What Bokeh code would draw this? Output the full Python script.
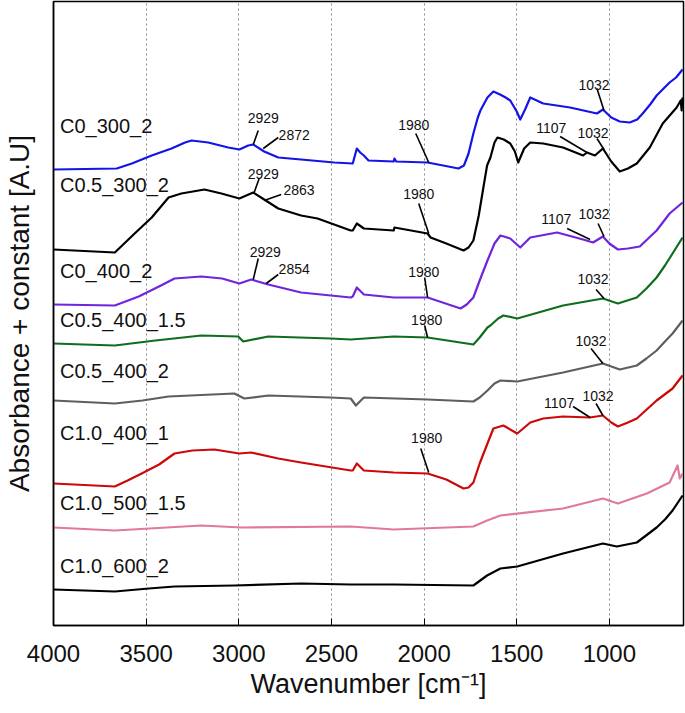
from bokeh.plotting import figure
from bokeh.models import Range1d, FixedTicker, ColumnDataSource
from bokeh.core.properties import value
from bokeh.embed import file_html
from bokeh.resources import INLINE

FONT = "Liberation Sans"

# ---- spectra (wavenumber cm-1, absorbance + constant) ----
wn_c0_300_2 = [4000, 3659, 3577, 3470, 3363, 3290, 3255, 3165, 3057, 2997, 2949, 2922, 2863, 2787, 2664, 2485,
               2385, 2363, 2345, 2325, 2300, 2164, 2160, 2150, 1981, 1814, 1785, 1760, 1734, 1710, 1696, 1670,
               1658, 1626, 1590, 1560, 1535, 1500, 1481, 1455, 1427, 1357, 1212, 1067, 1035, 990, 944, 890,
               850, 820, 780, 745, 675, 640, 605]
ab_c0_300_2 = [4.66, 4.67, 4.72, 4.80, 4.87, 4.93, 4.95, 4.93, 4.88, 4.86, 4.90, 4.91, 4.84, 4.78, 4.76, 4.73,
               4.72, 4.87, 4.83, 4.80, 4.75, 4.74, 4.77, 4.74, 4.73, 4.67, 4.70, 4.82, 5.02, 5.18, 5.25, 5.34,
               5.38, 5.44, 5.41, 5.38, 5.35, 5.24, 5.16, 5.26, 5.38, 5.32, 5.28, 5.22, 5.26, 5.18, 5.14, 5.13,
               5.16, 5.22, 5.31, 5.40, 5.53, 5.58, 5.66]

wn_c05_300_2 = [4000, 3669, 3562, 3470, 3379, 3310, 3185, 3094, 2997, 2922, 2863, 2787, 2664, 2575, 2396, 2385,
                2363, 2325, 2164, 2160, 1981, 1965, 1880, 1787, 1760, 1734, 1705, 1680, 1660, 1642, 1620, 1604,
                1570, 1535, 1510, 1492, 1460, 1427, 1357, 1250, 1142, 1121, 1078, 1035, 990, 944, 900, 852,
                782, 712, 637, 615, 610, 605]
ab_c05_300_2 = [3.86, 3.83, 4.02, 4.18, 4.38, 4.42, 4.46, 4.42, 4.37, 4.43, 4.36, 4.27, 4.20, 4.17, 4.05, 4.05,
                4.12, 4.07, 4.05, 4.08, 4.02, 3.98, 3.92, 3.85, 3.88, 3.95, 4.20, 4.48, 4.70, 4.78, 4.93, 4.98,
                4.96, 4.92, 4.84, 4.73, 4.87, 4.93, 4.92, 4.88, 4.80, 4.83, 4.80, 4.87, 4.74, 4.64, 4.67, 4.72,
                4.88, 5.12, 5.28, 5.35, 5.25, 5.38]

wn_c0_400_2 = [4000, 3669, 3540, 3420, 3347, 3202, 3090, 2997, 2933, 2841, 2664, 2396, 2385, 2363, 2325, 2164,
               1981, 1900, 1803, 1770, 1734, 1700, 1658, 1620, 1588, 1535, 1481, 1427, 1282, 1142, 1088, 1035,
               1000, 954, 900, 836, 745, 675, 605]
ab_c0_400_2 = [3.31, 3.30, 3.39, 3.50, 3.57, 3.59, 3.57, 3.52, 3.56, 3.51, 3.43, 3.38, 3.39, 3.48, 3.41, 3.38,
               3.38, 3.33, 3.27, 3.31, 3.38, 3.55, 3.75, 3.92, 4.00, 3.97, 3.88, 3.98, 4.03, 3.96, 3.93, 3.99,
               3.92, 3.86, 3.87, 3.89, 4.05, 4.22, 4.33]

wn_c05_400_15 = [4000, 3669, 3450, 3202, 3003, 2976, 2841, 2503, 2396, 2164, 1981, 1734, 1700, 1658, 1642, 1600,
                 1572, 1497, 1250, 1035, 954, 852, 800, 745, 700, 659, 605]
ab_c05_400_15 = [2.92, 2.90, 2.95, 3.00, 2.99, 2.94, 2.99, 2.97, 2.96, 2.99, 2.98, 2.91, 2.98, 3.08, 3.10, 3.17,
                 3.20, 3.17, 3.30, 3.37, 3.32, 3.38, 3.47, 3.58, 3.70, 3.82, 3.98]

wn_c05_400_2 = [4000, 3669, 3520, 3379, 3024, 2970, 2841, 2503, 2396, 2368, 2325, 1981, 1734, 1700, 1658, 1620,
                1588, 1497, 1250, 1035, 944, 852, 800, 745, 700, 659, 605]
ab_c05_400_2 = [2.35, 2.32, 2.35, 2.39, 2.42, 2.37, 2.40, 2.38, 2.37, 2.30, 2.38, 2.36, 2.34, 2.38, 2.45, 2.52,
                2.55, 2.54, 2.63, 2.72, 2.66, 2.70, 2.77, 2.85, 2.94, 3.02, 3.15]

wn_c10_400_1 = [4000, 3669, 3600, 3524, 3430, 3347, 3250, 3132, 2997, 2933, 2787, 2664, 2396, 2385, 2363, 2325,
                2164, 1981, 1880, 1787, 1760, 1734, 1700, 1658, 1626, 1572, 1497, 1427, 1357, 1250, 1105, 1035,
                990, 954, 900, 852, 745, 659, 605]
ab_c10_400_1 = [1.52, 1.49, 1.55, 1.62, 1.71, 1.82, 1.85, 1.86, 1.82, 1.83, 1.77, 1.73, 1.65, 1.65, 1.72, 1.65,
                1.63, 1.62, 1.56, 1.47, 1.48, 1.53, 1.72, 1.92, 2.07, 2.10, 2.02, 2.13, 2.17, 2.19, 2.18, 2.20,
                2.13, 2.09, 2.13, 2.17, 2.35, 2.47, 2.60]

wn_c10_500_15 = [4000, 3669, 3202, 2986, 2396, 2164, 1734, 1660, 1588, 1250, 1035, 954, 798, 675, 632, 620, 605]
ab_c10_500_15 = [1.08, 1.05, 1.10, 1.08, 1.09, 1.06, 1.09, 1.15, 1.20, 1.27, 1.37, 1.32, 1.42, 1.53, 1.70, 1.57,
                 1.62]

wn_c10_600_2 = [4000, 3669, 3486, 3347, 3024, 2664, 2396, 2164, 1734, 1660, 1588, 1497, 1250, 1035, 960, 852, 745,
                700, 659, 605]
ab_c10_600_2 = [0.46, 0.44, 0.47, 0.49, 0.50, 0.52, 0.51, 0.51, 0.50, 0.60, 0.67, 0.69, 0.82, 0.92, 0.89, 0.93,
                1.08, 1.16, 1.25, 1.40]

names = ["C0_300_2", "C0.5_300_2", "C0_400_2", "C0.5_400_1.5", "C0.5_400_2", "C1.0_400_1", "C1.0_500_1.5",
         "C1.0_600_2"]
colors = ["#1414e6", "#000000", "#7024dc", "#0e6e1e", "#5e5e5e", "#cc0808", "#e07a98", "#000000"]
label_y = [5.10, 4.51, 3.65, 3.16, 2.65, 2.03, 1.33, 0.70]
label_x = 3965

# ---- peak annotations ----
ann_text = ["2929", "2872", "2929", "2863", "2929", "2854", "1980", "1980", "1980", "1980", "1980",
            "1032", "1107", "1032", "1107", "1032", "1032", "1032", "1107", "1032"]
ann_tx = [2868, 2701, 2868, 2675, 2857, 2701, 2056, 2029, 2002, 1986, 1986,
          1083, 1314, 1088, 1287, 1083, 1088, 1099, 1271, 1061]
ann_ty = [5.18, 5.01, 4.62, 4.46, 3.84, 3.67, 5.11, 4.42, 3.64, 3.16, 1.98,
          5.51, 5.08, 5.03, 4.17, 4.22, 3.57, 2.95, 2.33, 2.40]
ann_x0 = [2895, 2787, 2890, 2771, 2895, 2787, 2045, 2029, 1997, 1997, 2018,
          1067, 1266, 1067, 1228, 1061, 1072, 1099, 1196, 1072]
ann_y0 = [5.05, 4.98, 4.57, 4.41, 3.77, 3.61, 5.02, 4.32, 3.58, 3.10, 1.87,
          5.47, 4.99, 4.97, 4.07, 4.12, 3.46, 2.87, 2.29, 2.32]
ann_x1 = [2922, 2868, 2917, 2863, 2922, 2852, 1975, 1975, 1981, 1981, 1975,
          1029, 1121, 1029, 1104, 1029, 1029, 1035, 1104, 1035]
ann_y1 = [4.91, 4.87, 4.43, 4.35, 3.56, 3.52, 4.73, 4.02, 3.38, 2.98, 1.63,
          5.25, 4.83, 4.86, 3.96, 3.99, 3.37, 2.72, 2.18, 2.20]

x_ticks = [4000, 3500, 3000, 2500, 2000, 1500, 1000]
grid_ticks = [3500, 3000, 2500, 2000, 1500, 1000]

p = figure(width=685, height=713, x_range=Range1d(4000, 600), y_range=Range1d(0.10, 6.34),
           output_backend="svg", toolbar_location=None,
           min_border_left=52, min_border_right=2, min_border_top=1, min_border_bottom=88)
p.background_fill_color = "white"
p.border_fill_color = "white"
p.outline_line_color = "black"
p.outline_line_width = 1.5

spectra = [(wn_c0_300_2, ab_c0_300_2), (wn_c05_300_2, ab_c05_300_2), (wn_c0_400_2, ab_c0_400_2),
           (wn_c05_400_15, ab_c05_400_15), (wn_c05_400_2, ab_c05_400_2), (wn_c10_400_1, ab_c10_400_1),
           (wn_c10_500_15, ab_c10_500_15), (wn_c10_600_2, ab_c10_600_2)]
for (wn, ab), col in zip(spectra, colors):
    p.line(wn, ab, line_color=col, line_width=2.2, line_join="round")

lab_src = ColumnDataSource(dict(x=[label_x] * len(names), y=label_y, t=names))
p.text(x="x", y="y", text="t", source=lab_src, text_font=value(FONT), text_font_size=value("20px"),
       text_align="left", text_baseline="middle", text_color="#111111")

ann_src = ColumnDataSource(dict(tx=ann_tx, ty=ann_ty, t=ann_text, x0=ann_x0, y0=ann_y0, x1=ann_x1, y1=ann_y1))
p.segment(x0="x0", y0="y0", x1="x1", y1="y1", source=ann_src, line_color="black", line_width=1.6)
p.text(x="tx", y="ty", text="t", source=ann_src, text_font=value(FONT), text_font_size=value("14px"),
       text_align="center", text_baseline="middle", text_color="#111111")

# axes
p.xaxis.ticker = FixedTicker(ticks=x_ticks)
p.xaxis.minor_tick_line_color = None
p.xaxis.major_tick_in = 7
p.xaxis.major_tick_out = 0
p.xaxis.major_tick_line_color = "black"
p.xaxis.axis_line_color = "black"
p.xaxis.axis_line_width = 1.5
p.xaxis.major_label_text_font = FONT
p.xaxis.major_label_text_font_size = "24px"
p.xaxis.major_label_text_color = "#111111"
p.xaxis.major_label_standoff = 19
p.xaxis.axis_label = "Wavenumber [cm⁻¹]"
p.xaxis.axis_label_text_font = FONT
p.xaxis.axis_label_text_font_size = "27px"
p.xaxis.axis_label_text_font_style = "normal"
p.xaxis.axis_label_text_color = "#111111"
p.xaxis.axis_label_standoff = 4

p.yaxis.ticker = FixedTicker(ticks=[])
p.yaxis.minor_tick_line_color = None
p.yaxis.major_tick_in = 0
p.yaxis.major_tick_out = 0
p.yaxis.major_label_text_font_size = "0px"
p.yaxis.major_label_standoff = 0
p.yaxis.axis_line_color = "black"
p.yaxis.axis_line_width = 1.5
p.yaxis.axis_label = "Absorbance + constant [A.U]"
p.yaxis.axis_label_text_font = FONT
p.yaxis.axis_label_text_font_size = "28px"
p.yaxis.axis_label_text_font_style = "normal"
p.yaxis.axis_label_text_color = "#111111"
p.yaxis.axis_label_standoff = 19

p.xgrid.ticker = FixedTicker(ticks=grid_ticks)
p.xgrid.grid_line_color = "#8a8a8a"
p.xgrid.grid_line_dash = "2 3"
p.xgrid.grid_line_width = 1
p.ygrid.visible = False

open("out.html", "w").write(file_html(p, INLINE))
